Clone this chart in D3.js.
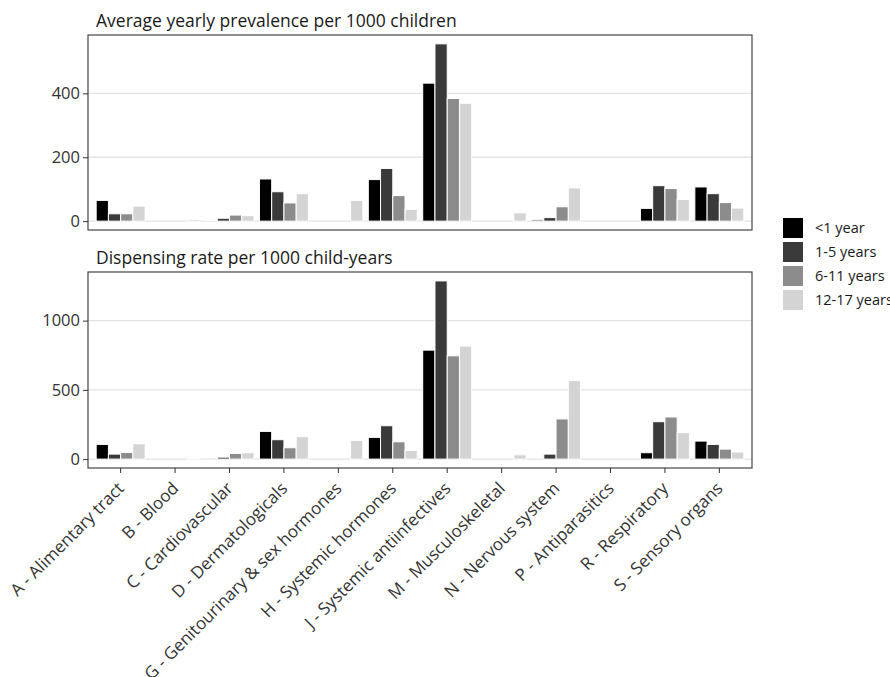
<!DOCTYPE html>
<html>
<head>
<meta charset="utf-8">
<script src="https://cdn.jsdelivr.net/npm/d3@7"></script>
<style>
  body { margin: 0; background: #fff; }
  svg { font-family: 'Open Sans', Lato, sans-serif; }
</style>
</head>
<body>
<svg id="chart" width="890" height="677"></svg>
<script>
// ATC groups on the x axis
const categories = [
  'A - Alimentary tract', 'B - Blood', 'C - Cardiovascular', 'D - Dermatologicals',
  'G - Genitourinary & sex hormones', 'H - Systemic hormones', 'J - Systemic antiinfectives',
  'M - Musculoskeletal', 'N - Nervous system', 'P - Antiparasitics', 'R - Respiratory',
  'S - Sensory organs'
];
const ageGroups = ['<1 year', '1-5 years', '6-11 years', '12-17 years'];
const ageColors = ['#000000', '#3a3a3a', '#8c8c8c', '#d4d4d4'];

// Average yearly prevalence per 1000 children
const prevalenceLt1   = [65, 0, 2, 132, 0, 130, 432, 0, 4, 0, 40, 107];
const prevalence1to5  = [23, 0, 9, 92, 0, 165, 555, 0, 11, 0, 111, 86];
const prevalence6to11 = [23, 0, 19, 57, 0, 80, 384, 0, 45, 0, 102, 58];
const prevalence12to17 = [47, 5, 17, 86, 65, 37, 369, 26, 104, 0, 68, 41];

// Dispensing rate per 1000 child-years
const dispensingLt1   = [106, 0, 2, 200, 0, 157, 787, 0, 0, 0, 46, 130];
const dispensing1to5  = [36, 0, 14, 140, 0, 241, 1287, 0, 36, 0, 270, 106];
const dispensing6to11 = [48, 0, 41, 82, 0, 125, 746, 0, 290, 0, 304, 72];
const dispensing12to17 = [111, 8, 46, 162, 135, 62, 816, 31, 567, 0, 191, 51];

const prevalenceTicks = [0, 200, 400];
const dispensingTicks = [0, 500, 1000];

const panels = [
  { title: 'Average yearly prevalence per 1000 children',
    series: [prevalenceLt1, prevalence1to5, prevalence6to11, prevalence12to17],
    ticks: prevalenceTicks, top: 35, bottom: 230, showX: false },
  { title: 'Dispensing rate per 1000 child-years',
    series: [dispensingLt1, dispensing1to5, dispensing6to11, dispensing12to17],
    ticks: dispensingTicks, top: 272, bottom: 468, showX: true }
];

const svg = d3.select('#chart');
const left = 88, right = 752;

const x = d3.scaleBand()
  .domain(categories)
  .range([left, right])
  .paddingInner(0.1)
  .paddingOuter(0.15);

const xAge = d3.scaleBand()
  .domain(ageGroups)
  .range([0, x.bandwidth()]);

panels.forEach(p => {
  const maxVal = d3.max(p.series.flat());
  const y = d3.scaleLinear()
    .domain([-0.05 * maxVal, maxVal * 1.05])
    .range([p.bottom, p.top]);

  const g = svg.append('g');

  // panel title
  g.append('text')
    .attr('x', 96)
    .attr('y', p.top - 8)
    .attr('fill', '#1a1a1a')
    .style('font-size', '17.5px')
    .text(p.title);

  // gridlines
  g.selectAll('.grid')
    .data(p.ticks)
    .enter().append('line')
    .attr('x1', left).attr('x2', right)
    .attr('y1', d => y(d)).attr('y2', d => y(d))
    .attr('stroke', '#e4e4e4')
    .attr('stroke-width', 1.4);

  // bars
  const rows = [];
  categories.forEach((c, i) => {
    ageGroups.forEach((a, j) => rows.push({ cat: c, age: a, j: j, value: p.series[j][i] }));
  });

  g.selectAll('.bar')
    .data(rows)
    .enter().append('rect')
    .attr('x', d => x(d.cat) + xAge(d.age))
    .attr('width', xAge.bandwidth())
    .attr('y', d => y(d.value))
    .attr('height', d => y(0) - y(d.value))
    .attr('fill', d => ageColors[d.j])
    .attr('stroke', '#fff')
    .attr('stroke-width', 1);

  // y axis
  const yAxis = d3.axisLeft(y).tickValues(p.ticks).tickFormat(d3.format('d')).tickSize(5).tickPadding(3);
  const ya = g.append('g')
    .attr('transform', `translate(${left},0)`)
    .call(yAxis);
  ya.select('.domain').remove();
  ya.selectAll('line').attr('stroke', '#333');
  ya.selectAll('text')
    .attr('fill', '#333')
    .style('font-size', '16.5px')
    .style('font-family', "'Open Sans', sans-serif");

  // panel border
  g.append('rect')
    .attr('x', left).attr('y', p.top)
    .attr('width', right - left).attr('height', p.bottom - p.top)
    .attr('fill', 'none')
    .attr('stroke', '#333')
    .attr('stroke-width', 1.1);

  if (p.showX) {
    const xAxis = d3.axisBottom(x).tickSize(5).tickFormat('');
    const xa = g.append('g')
      .attr('transform', `translate(0,${p.bottom})`)
      .call(xAxis);
    xa.select('.domain').remove();
    xa.selectAll('line').attr('stroke', '#333');

    g.selectAll('.xlab')
      .data(categories)
      .enter().append('text')
      .attr('text-anchor', 'end')
      .attr('transform', d => `translate(${x(d) + x.bandwidth() / 2 - 3},${p.bottom + 14}) rotate(-45)`)
      .attr('dy', '0.62em')
      .attr('fill', '#333')
      .style('font-size', '17px')
      .text(d => d);
  }
});

// legend
const legend = svg.append('g').attr('transform', 'translate(783,218)');
ageGroups.forEach((a, i) => {
  const row = legend.append('g').attr('transform', `translate(0,${i * 24})`);
  row.append('rect')
    .attr('width', 20).attr('height', 20)
    .attr('fill', ageColors[i]);
  row.append('text')
    .attr('x', 32).attr('y', 10)
    .attr('dy', '0.35em')
    .attr('fill', '#1a1a1a')
    .style('font-size', '14.5px')
    .text(a);
});
</script>
</body>
</html>
